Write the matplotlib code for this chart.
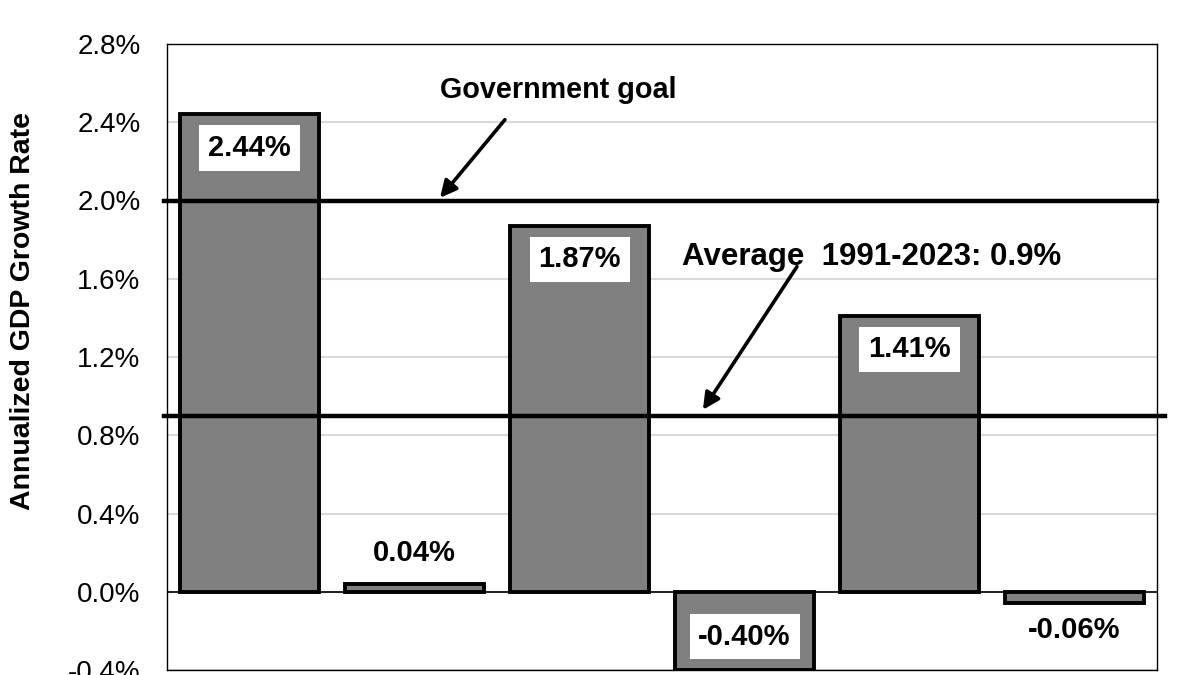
import matplotlib
matplotlib.use("Agg")
import matplotlib.pyplot as plt
from matplotlib.ticker import FuncFormatter

plt.rcParams['font.family'] = ['Liberation Sans', 'DejaVu Sans']

# growth rate per period (%), x labels are cropped out in the reference
periods = ["P1", "P2", "P3", "P4", "P5", "P6"]
growth = [2.44, 0.04, 1.87, -0.40, 1.41, -0.06]
labels = ["2.44%", "0.04%", "1.87%", "-0.40%", "1.41%", "-0.06%"]
boxed = [True, False, True, True, True, False]
goal = 2.0
average = 0.9

fig = plt.figure(figsize=(12, 6.75), dpi=100)
ax = fig.add_axes([167/1200, 5/675, 990/1200, 626/675])

x = list(range(len(periods)))
ax.bar(x, growth, width=0.84, color="#808080", edgecolor="black", linewidth=2.8, zorder=3)

ax.set_xlim(-0.5, 5.5)
ax.set_ylim(-0.4, 2.8)
ax.set_yticks([-0.4, 0.0, 0.4, 0.8, 1.2, 1.6, 2.0, 2.4, 2.8])
ax.yaxis.set_major_formatter(FuncFormatter(lambda v, p: "%.1f%%" % v))
ax.set_xticks([])
ax.tick_params(axis="y", length=0, pad=19, labelsize=20)
ax.grid(axis="y", color="#d9d9d9", linewidth=1.5, zorder=0)
for s in ax.spines.values():
    s.set_linewidth(1.0)
ax.axhline(0, color="black", linewidth=1.2, zorder=4)

# goal and average lines
ax.axhline(goal, xmin=-0.003, xmax=1.0, color="black", linewidth=3.2, zorder=5, clip_on=False)
ax.axhline(average, xmin=-0.003, xmax=1.008, color="black", linewidth=3.2, zorder=5, clip_on=False)

ax.set_ylabel("Annualized GDP Growth Rate", fontsize=20.5, fontweight="bold")
ax.yaxis.set_label_coords(-0.132, 0.573)

# bar value labels
for i, v in enumerate(growth):
    if boxed[i]:
        off = -24 if v > 0 else 24
        ax.annotate(labels[i], (i, v), xytext=(0, off), textcoords="offset points",
                    ha="center", va="center", fontsize=21, fontweight="bold", zorder=6,
                    bbox=dict(boxstyle="square,pad=0.3", facecolor="white", edgecolor="none"))
    else:
        off = 22 if v > 0 else -19
        ax.annotate(labels[i], (i, v), xytext=(0, off), textcoords="offset points",
                    ha="center", va="center", fontsize=21, fontweight="bold", zorder=6)

# annotations with arrows
arrow = dict(arrowstyle="-|>,head_length=1.0,head_width=0.5", color="black", linewidth=2.6,
             shrinkA=0, shrinkB=0)
ax.annotate("", xy=(1.155, 2.014), xytext=(1.548, 2.413), arrowprops=arrow, zorder=6)
ax.text(1.87, 2.566, "Government goal", ha="center", va="center", fontsize=20.7, fontweight="bold")
ax.annotate("", xy=(2.748, 0.93), xytext=(3.318, 1.662), arrowprops=arrow, zorder=6)
ax.text(3.773, 1.713, "Average  1991-2023: 0.9%", ha="center", va="center", fontsize=22.5, fontweight="bold")

fig.savefig("out.png", dpi=100)
